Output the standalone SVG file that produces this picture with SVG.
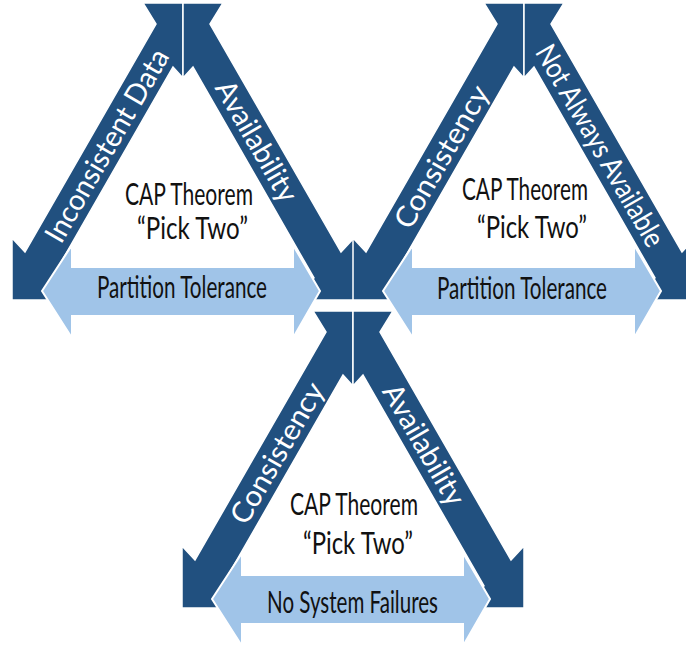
<svg xmlns="http://www.w3.org/2000/svg" width="686" height="646" viewBox="0 0 686 646">
<style>
.dk{fill:#21507f;stroke:#fff;stroke-width:1.5}
.lt{fill:#a0c4e8;stroke:#fff;stroke-width:2}
.ct{font-family:Lato,"Open Sans","Liberation Sans",sans-serif;font-size:31px;fill:#111;text-anchor:middle}
.bt{font-family:Lato,"Open Sans","Liberation Sans",sans-serif;font-size:29px;fill:#fff;text-anchor:middle}
</style>
<defs>
<polygon id="arm" points="0,0 -40,0 -27,21 -158,249 -171,235 -171,297 -109,297 -131,275 -10,64 0,75"/>
<polygon id="bar" points="-141,288 -111,242 -111,264 110,264 110,242 137,288 110,335 110,313 -111,313 -111,335"/>
</defs>
<rect width="686" height="646" fill="#fff"/>
<g id="triangle-1">
<g transform="translate(183,3)">
<use href="#arm" class="dk"/>
<use href="#arm" class="dk" transform="scale(-1,1)"/>
<use href="#bar" class="lt"/>
</g>
<text class="bt" transform="translate(106.9,145.7) rotate(-60)" y="10" textLength="218" lengthAdjust="spacingAndGlyphs">Inconsistent Data</text>
<text class="bt" transform="translate(256.6,141.2) rotate(60)" y="10" textLength="135" lengthAdjust="spacingAndGlyphs">Availability</text>
<text class="ct" x="189" y="205" textLength="128" lengthAdjust="spacingAndGlyphs">CAP Theorem</text>
<text class="ct" x="192.5" y="239" textLength="111" lengthAdjust="spacingAndGlyphs">“Pick Two”</text>
<text class="ct" x="182" y="298" textLength="170" lengthAdjust="spacingAndGlyphs">Partition Tolerance</text>
</g>
<g id="triangle-2">
<g transform="translate(524,3)">
<use href="#arm" class="dk"/>
<use href="#arm" class="dk" transform="scale(-1,1)"/>
<use href="#bar" class="lt"/>
</g>
<text class="bt" transform="translate(441.5,156.8) rotate(-60)" y="10" textLength="160" lengthAdjust="spacingAndGlyphs">Consistency</text>
<text class="bt" transform="translate(600.1,145.7) rotate(60)" y="10" textLength="228" lengthAdjust="spacingAndGlyphs">Not Always Available</text>
<text class="ct" x="525" y="200" textLength="126" lengthAdjust="spacingAndGlyphs">CAP Theorem</text>
<text class="ct" x="532" y="238" textLength="110" lengthAdjust="spacingAndGlyphs">“Pick Two”</text>
<text class="ct" x="522" y="299" textLength="170" lengthAdjust="spacingAndGlyphs">Partition Tolerance</text>
</g>
<g id="triangle-3">
<g transform="translate(353,311)">
<use href="#arm" class="dk"/>
<use href="#arm" class="dk" transform="scale(-1,1)"/>
<use href="#bar" class="lt"/>
</g>
<text class="bt" transform="translate(277.2,453.1) rotate(-60)" y="10" textLength="158" lengthAdjust="spacingAndGlyphs">Consistency</text>
<text class="bt" transform="translate(424,444.7) rotate(60)" y="10" textLength="135" lengthAdjust="spacingAndGlyphs">Availability</text>
<text class="ct" x="354" y="515" textLength="128" lengthAdjust="spacingAndGlyphs">CAP Theorem</text>
<text class="ct" x="358" y="554" textLength="110" lengthAdjust="spacingAndGlyphs">“Pick Two”</text>
<text class="ct" x="352.5" y="613" textLength="171" lengthAdjust="spacingAndGlyphs">No System Failures</text>
</g>
</svg>
